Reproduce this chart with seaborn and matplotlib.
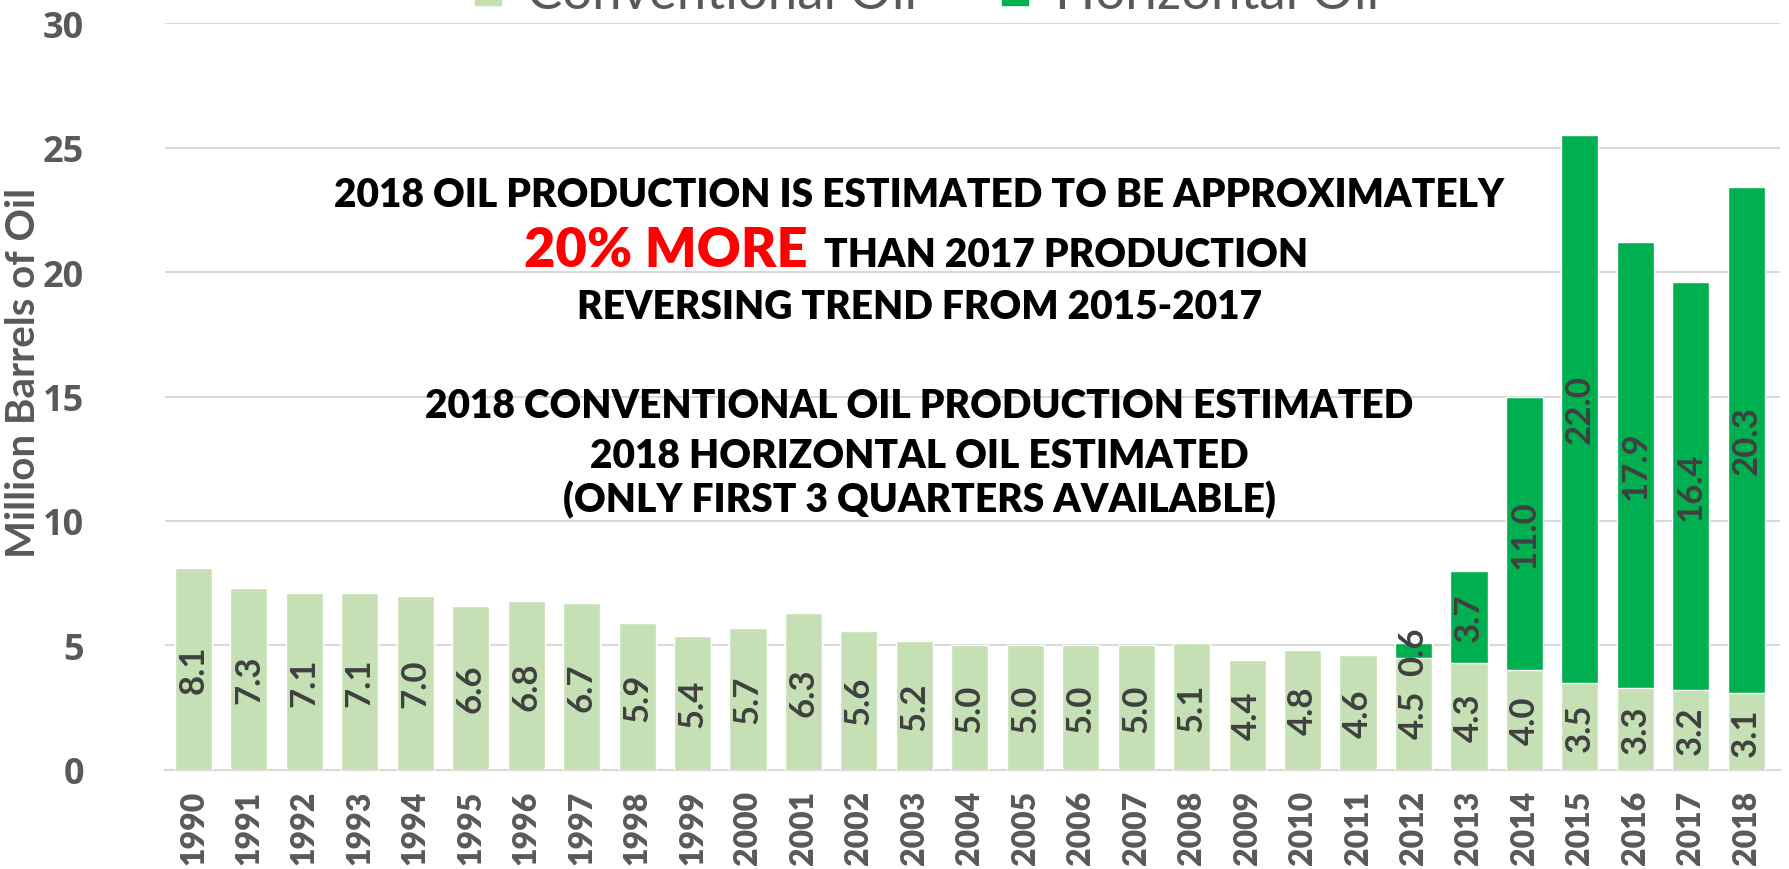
# Oil production chart: conventional vs horizontal oil, 1990-2018
import matplotlib
matplotlib.use("Agg")
import matplotlib.pyplot as plt
from matplotlib.patches import Patch
import seaborn as sns

# ------------------------------------------------------------------
# Data
# ------------------------------------------------------------------
years = [str(y) for y in range(1990, 2019)]
conventional = [8.1, 7.3, 7.1, 7.1, 7.0, 6.6, 6.8, 6.7, 5.9, 5.4, 5.7, 6.3, 5.6, 5.2,
                5.0, 5.0, 5.0, 5.0, 5.1, 4.4, 4.8, 4.6, 4.5, 4.3, 4.0, 3.5, 3.3, 3.2, 3.1]
horizontal = [0, 0, 0, 0, 0, 0, 0, 0, 0, 0, 0, 0, 0, 0,
              0, 0, 0, 0, 0, 0, 0, 0, 0.6, 3.7, 11.0, 22.0, 17.9, 16.4, 20.3]
total = [c + h for c, h in zip(conventional, horizontal)]

light_green = "#C5E0B4"
dark_green = "#00B050"
gray = "#595959"

# ------------------------------------------------------------------
# Figure
# ------------------------------------------------------------------
sns.set_style("white")
plt.rcParams["font.family"] = ["Lato", "DejaVu Sans"]

fig = plt.figure(figsize=(17.89, 8.70), dpi=100)
ax = fig.add_axes([0.092, 0.1138, 0.903, 0.8586])

# Stacked bars: total (horizontal on top) first, conventional drawn over it
sns.barplot(x=years, y=total, color=dark_green, saturation=1, width=0.67,
            errorbar=None, ax=ax, zorder=3)
sns.barplot(x=years, y=conventional, color=light_green, saturation=1, width=0.67,
            errorbar=None, ax=ax, zorder=3)

# Value labels inside bars
ax.bar_label(ax.containers[1], labels=[f"{v:.1f}" for v in conventional],
             label_type="center", rotation=90, fontsize=25, fontweight="bold",
             color="#404040")
for i, (c, h) in enumerate(zip(conventional, horizontal)):
    if h > 0:
        ax.text(i, c + h / 2, f"{h:.1f}", rotation=90, ha="center", va="center",
                fontsize=25, fontweight="bold", color="#404040", zorder=4)

# Axes styling
ax.set_ylim(0, 30)
ax.set_xlim(-0.52, 28.61)
ax.set_yticks(range(0, 31, 5))
ax.yaxis.grid(True, color="#D9D9D9", linewidth=1.5, zorder=0)
ax.set_axisbelow(True)
for side in ["top", "right", "left"]:
    ax.spines[side].set_visible(False)
ax.spines["bottom"].set_color("#D9D9D9")
ax.spines["bottom"].set_linewidth(1.5)
ax.tick_params(axis="both", length=0)
ax.tick_params(axis="y", pad=58)
ax.tick_params(axis="x", pad=14)
for lbl in ax.get_yticklabels():
    lbl.set_fontfamily("Open Sans")
    lbl.set_fontweight("bold")
    lbl.set_fontsize(26)
    lbl.set_color(gray)
for lbl in ax.get_xticklabels():
    lbl.set_rotation(90)
    lbl.set_fontweight("heavy")
    lbl.set_fontsize(23)
    lbl.set_color(gray)
ax.set_xlabel("")
ax.set_ylabel("Million Barrels of Oil", fontsize=29, fontweight="bold", color=gray)
ax.yaxis.set_label_coords(-0.076, 0.533)

# Legend, mostly cut off by the top of the image
handles = [Patch(color=light_green, label="Conventional Oil"),
           Patch(color=dark_green, label="Horizontal Oil")]
leg = fig.legend(handles=handles, loc="lower center", bbox_to_anchor=(0.518, 0.979),
                 ncol=2, frameon=False, fontsize=38, borderpad=0, borderaxespad=0,
                 columnspacing=1.6, handlelength=0.5, handleheight=0.5,
                 handletextpad=0.5)
for t in leg.get_texts():
    t.set_color(gray)

# Annotation text
cx = 0.514
fs = 28
fig.text(cx, 1 - 207 / 870, "2018 OIL PRODUCTION IS ESTIMATED TO BE APPROXIMATELY",
         ha="center", va="baseline", fontsize=fs, fontweight="heavy", color="black")
fig.text(808 / 1789, 1 - 267 / 870, "20% MORE", ha="right", va="baseline",
         fontsize=39, fontweight="heavy", color="#FF0000")
fig.text(824 / 1789, 1 - 267 / 870, "THAN 2017 PRODUCTION", ha="left", va="baseline",
         fontsize=fs, fontweight="heavy", color="black")
fig.text(cx, 1 - 319 / 870, "REVERSING TREND FROM 2015-2017",
         ha="center", va="baseline", fontsize=fs, fontweight="heavy", color="black")
fig.text(cx, 1 - 418 / 870, "2018 CONVENTIONAL OIL PRODUCTION ESTIMATED",
         ha="center", va="baseline", fontsize=fs, fontweight="heavy", color="black")
fig.text(cx, 1 - 468 / 870, "2018 HORIZONTAL OIL ESTIMATED",
         ha="center", va="baseline", fontsize=fs, fontweight="heavy", color="black")
fig.text(cx, 1 - 512 / 870, "(ONLY FIRST 3 QUARTERS AVAILABLE)",
         ha="center", va="baseline", fontsize=fs, fontweight="heavy", color="black")

fig.savefig("out.png", dpi=100)
